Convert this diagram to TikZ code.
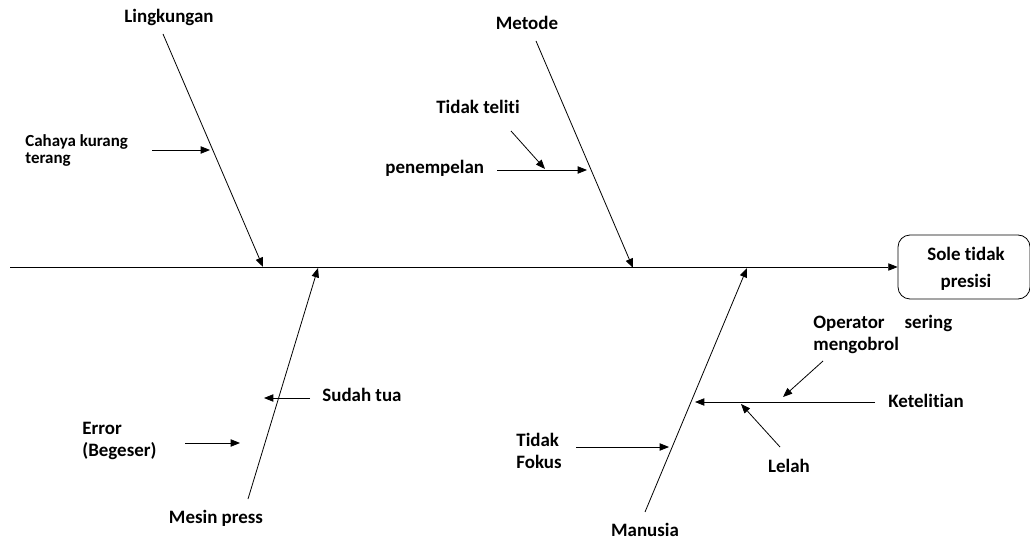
\documentclass[tikz,border=0pt]{standalone}
\usepackage{fontspec}
\setmainfont[Ligatures=NoCommon]{Carlito}
\usetikzlibrary{arrows.meta}
\tikzset{>/.tip={Triangle[length=7pt,width=5.5pt]},
  lbl/.style={font=\bfseries\fontsize{14.2}{16.5}\selectfont, align=left, inner sep=0pt}}

\begin{document}
\begin{tikzpicture}[x=0.75pt,y=-0.75pt,line width=0.6pt]
\useasboundingbox (0,0) rectangle (1030,541);
\node[draw, rounded corners=9pt, minimum width=99pt, minimum height=48pt] (sole) at (964,267) {};
\node[lbl, align=center, font=\bfseries\fontsize{14.2}{20.25}\selectfont] (soletxt) at (966,269) {Sole tidak\\presisi};
\node[lbl] (lingk) at (169,17) {Lingkungan};
\node[lbl] (metode) at (527,23) {Metode};
\node[lbl] (mesin) at (216,518) {Mesin press};
\node[lbl] (manusia) at (645,530) {Manusia};
\node[lbl, anchor=west, font=\bfseries\fontsize{12.7}{12.75}\selectfont] (cahaya) at (25,150) {Cahaya kurang\\terang};
\node[lbl] (teliti) at (478,107) {Tidak teliti};
\node[lbl, anchor=west] (tempel) at (385,168) {penempelan};
\node[lbl, anchor=west] (tua) at (322,395) {Sudah tua};
\node[lbl, anchor=west] (error) at (82,441) {Error\\(Begeser)};
\node[lbl, anchor=west] (fokus) at (516,451) {Tidak\\Fokus};
\node[lbl, anchor=west] (ketel) at (888,401) {Ketelitian};
\node[lbl, anchor=west] (ngobrol) at (813,334) {Operator\hspace{15pt}sering\\mengobrol};
\node[lbl] (lelah) at (789,466) {Lelah};

\coordinate (tail) at (10,267);
\coordinate (l0) at (163,34);   \coordinate (l1) at (263,267);
\coordinate (m0) at (536,41);   \coordinate (m1) at (633,268);
\coordinate (p0) at (248,499);  \coordinate (p1) at (318,268);
\coordinate (h0) at (645,512);  \coordinate (h1) at (747,268);
\coordinate (c0) at (152,150);  \coordinate (c1) at (210,150);
\coordinate (t0) at (511,131);  \coordinate (t1) at (545,169);
\coordinate (e0) at (497,170);  \coordinate (e1) at (587,170);
\coordinate (u0) at (310,398);  \coordinate (u1) at (264,398);
\coordinate (r0) at (185,443);  \coordinate (r1) at (240,443);
\coordinate (f0) at (576,447);  \coordinate (f1) at (669,447);
\coordinate (k0) at (875,402);  \coordinate (k1) at (695,402);
\coordinate (o0) at (823,361);  \coordinate (o1) at (783,397);
\coordinate (a0) at (780,447);  \coordinate (a1) at (741,404);

\draw[->] (tail) -- (sole.west);
\foreach \i in {l,m,p,h,c,t,e,u,r,f,k,o,a}
{
  \draw[->] (\i0) -- (\i1);
}
\end{tikzpicture}
\end{document}
